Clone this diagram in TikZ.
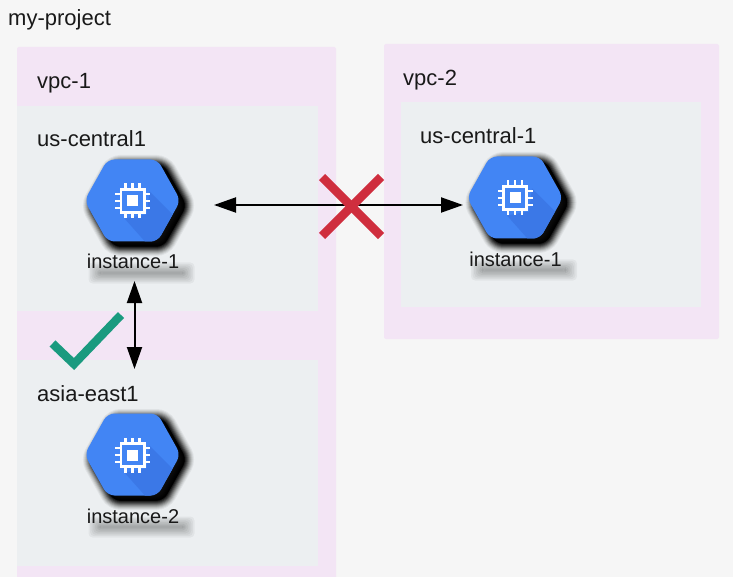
\documentclass[tikz,border=0pt]{standalone}
\usepackage{fontspec}
\setmainfont{Liberation Sans}
\usetikzlibrary{arrows.meta}
\definecolor{pagebg}{HTML}{F6F6F6}
\definecolor{vpcbg}{HTML}{F3E5F5}
\definecolor{subnetbg}{HTML}{ECEFF1}
\definecolor{hexblue}{HTML}{4285F4}
\definecolor{hexdark}{HTML}{3B78E7}
\definecolor{crossred}{HTML}{CF2E3E}
\definecolor{checkgreen}{HTML}{1A9A7F}
\tikzset{
  x=1pt,y=-1pt,
  vpcbox/.style={fill=vpcbg,rounded corners=2pt},
  subnetbox/.style={fill=subnetbg},
  lbl/.style={anchor=base west,inner sep=0pt,font=\fontsize{22}{26}\selectfont,text=black!90},
  instlbl/.style={anchor=base,inner sep=0pt,font=\fontsize{20}{24}\selectfont,text=black!90},
  hexnode/.style={minimum width=92pt,minimum height=82pt,inner sep=0pt},
  link/.style={line width=2pt,{Triangle[length=22pt,width=15pt]}-{Triangle[length=22pt,width=15pt]}},
  statusmark/.style={line width=8.5pt},
}
\newcommand{\hexpath}{(-48,0) -- (-25,-41) -- (25,-41) -- (48,0) -- (25,41) -- (-25,41) -- cycle}
% name, cx, cy, label
\newcommand{\gcpinstance}[4]{
  \begin{scope}[shift={(#2,#3)}]
    % blurred shadow
    \foreach \w/\o in {19/0.05,17/0.07,15/0.09,13/0.12,11/0.15,9/0.2,7/0.25,5/0.3,3/0.4,1/0.5}{
      \draw[black,fill=black,opacity=\o,line width=\w pt,rounded corners=7pt,shift={(6,5)}] \hexpath;
    }
    \begin{scope}
      \clip[rounded corners=7pt] \hexpath;
      \fill[hexblue] (-50,-45) rectangle (50,45);
      \fill[hexdark] (17,-9) -- (50,24) -- (50,45) -- (16,45) -- (-8,18) -- (14,14) -- cycle;
    \end{scope}
    % chip
    \begin{scope}[shift={(0,0.5)}]
    \draw[white,line width=2.6pt] (-11.7,-11.7) rectangle (11.7,11.7);
    \fill[white] (-5.5,-5.5) rectangle (5.5,5.5);
    \foreach \p in {-7,0,7}{
      \draw[white,line width=2.4pt] (\p,-11.7) -- (\p,-17.5);
      \draw[white,line width=2.4pt] (\p,11.7) -- (\p,17.5);
      \draw[white,line width=2.4pt] (-11.7,\p) -- (-17.5,\p);
      \draw[white,line width=2.4pt] (11.7,\p) -- (17.5,\p);
    }
    \end{scope}
    % blurred label shadow
    \foreach \w in {0,1,2,3,4,5,6,7}{
      \fill[black,opacity=0.045,rounded corners=4pt] (-44+1.6*\w,62+1.4*\w) rectangle (62-1.6*\w,83-1.4*\w);
    }
    \node[hexnode] (#1) at (0,0) {};
    \node[instlbl] (#1label) at (0.5,68.5) {#4};
  \end{scope}
}
\begin{document}
\begin{tikzpicture}
\useasboundingbox (0,0) rectangle (733,577);
\fill[pagebg] (0,0) rectangle (733,577);
\node[lbl] (project) at (8,26) {my-project};
% vpc-1
\fill[vpcbox] (17,47) rectangle (336,590);
\fill[subnetbox] (17,106) rectangle (318,311);
\fill[subnetbox] (17,360) rectangle (318,566);
\node[lbl] (vpc1) at (37,89) {vpc-1};
\node[lbl] (sub1) at (37,146.5) {us-central1};
\node[lbl] (sub2) at (37,401.5) {asia-east1};
% vpc-2
\fill[vpcbox] (384,44) rectangle (719,339);
\fill[subnetbox] (401,102) rectangle (701,307);
\node[lbl] (vpc2) at (403,86) {vpc-2};
\node[lbl] (sub3) at (420,143.5) {us-central-1};
% instances
\gcpinstance{hexa}{132.5}{200.5}{instance-1}
\gcpinstance{hexb}{132.5}{454.5}{instance-2}
\gcpinstance{hexc}{515}{197.5}{instance-1}
% connectors
\coordinate (crossleft) at (214,205);
\coordinate (crossright) at (463,205);
\coordinate (verttop) at (134.5,281);
\coordinate (vertbottom) at (134.5,369);
\draw[link] (crossleft) -- (crossright);
\draw[link] (verttop) -- (vertbottom);
% status marks
\draw[statusmark,crossred] (322,177) -- (381,236);
\draw[statusmark,crossred] (381,177) -- (322,236);
\draw[statusmark,checkgreen] (52.5,343.5) -- (74,364) -- (121,315);
\end{tikzpicture}
\end{document}
